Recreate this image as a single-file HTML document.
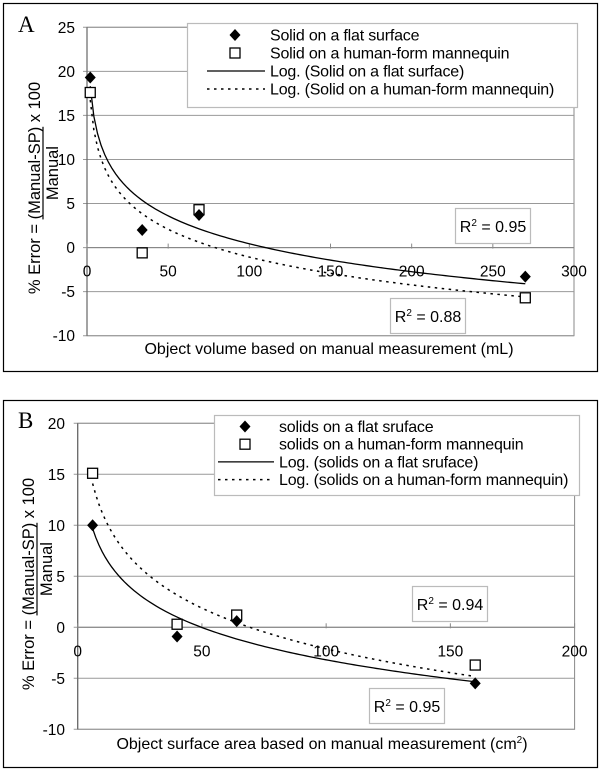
<!DOCTYPE html>
<html><head><meta charset="utf-8"><style>
html,body{margin:0;padding:0;background:#fff;}
svg{display:block;font-family:"Liberation Sans",Arial,sans-serif;}
</style></head><body>
<svg id="svg" width="602" height="772" viewBox="0 0 602 772" xmlns="http://www.w3.org/2000/svg">
<rect x="3.5" y="3.5" width="594" height="368" fill="#fff" stroke="#000" stroke-width="1.2"/>
<rect x="3.5" y="400.5" width="594" height="367" fill="#fff" stroke="#000" stroke-width="1.2"/>
<g id="A"></g>
<g id="B"></g>
</svg>
<script>
// Chart A data
const aFlatX = [2, 34, 69, 270];
const aFlatY = [19.3, 2, 3.7, -3.3];
const aMannX = [2, 34, 69, 270];
const aMannY = [17.6, -0.6, 4.3, -5.7];
const aYTicks = [25, 20, 15, 10, 5, 0, -5, -10];
const aXTicks = [0, 50, 100, 150, 200, 250, 300];
const aR2 = ["0.95", "0.88"];
// Chart B data
const bFlatX = [6, 40, 64, 160];
const bFlatY = [10, -0.9, 0.6, -5.5];
const bMannX = [6, 40, 64, 160];
const bMannY = [15.1, 0.3, 1.2, -3.7];
const bYTicks = [20, 15, 10, 5, 0, -5, -10];
const bXTicks = [0, 50, 100, 150, 200];
const bR2 = ["0.95", "0.94"];

const NS = "http://www.w3.org/2000/svg";
function mk(parent, tag, attrs, text) {
  const e = document.createElementNS(NS, tag);
  for (const k in attrs) e.setAttribute(k, attrs[k]);
  if (text !== undefined) e.textContent = text;
  parent.appendChild(e);
  return e;
}
function fit(xs, ys) {
  const lx = xs.map(Math.log);
  const n = xs.length;
  const mx = lx.reduce((a, b) => a + b, 0) / n, my = ys.reduce((a, b) => a + b, 0) / n;
  let sxx = 0, sxy = 0;
  for (let i = 0; i < n; i++) { sxx += (lx[i] - mx) ** 2; sxy += (lx[i] - mx) * (ys[i] - my); }
  const a = sxy / sxx; return { a: a, b: my - a * mx };
}
function drawChart(g, c) {
  const X = v => c.x0 + (v - c.xmin) / (c.xmax - c.xmin) * (c.x1 - c.x0);
  const Y = v => c.yTop + (c.ymax - v) / (c.ymax - c.ymin) * (c.yBot - c.yTop);
  let t = mk(g, "text", {x: 18, y: c.letterY, "font-family": "Liberation Serif,serif", "font-size": 23}, c.letter);
  
  
  let r = mk(g, "rect", {x: c.x0, y: c.yTop, width: c.x1 - c.x0, height: c.yBot - c.yTop, fill: "none", stroke: "#888", "stroke-width": 1});
  
  
  c.yTicks.forEach(v => {
    const y = Y(v);
    const l = mk(g, "line", {x1: c.x0 - 4, x2: c.x1, y1: y, y2: y, stroke: "#999", "stroke-width": 1});
    
    
    const tt = mk(g, "text", {x: c.yLabX, y: y + 5.5, "text-anchor": "end", "font-size": 15.5}, String(v));
    
    
  });
  const ax = mk(g, "line", {x1: c.x0, x2: c.x0, y1: c.yTop, y2: c.yBot, stroke: "#666", "stroke-width": 1.2});
  
  
  const xa = mk(g, "line", {x1: c.x0, x2: c.x1, y1: Y(0), y2: Y(0), stroke: "#888", "stroke-width": 1.2});
  
  
  c.xTicks.forEach(v => {
    const x = X(v);
    const l = mk(g, "line", {x1: x, x2: x, y1: Y(0) - 4, y2: Y(0) + 1, stroke: "#888"});
    
    
    const tt = mk(g, "text", {x: x, y: Y(0) + 29, "text-anchor": "middle", "font-size": 15.5}, String(v));
    
    
  });
  const drawFit = (xs, ys, dash, name) => {
    const f = fit(xs, ys);
    const lo = Math.min(...xs), hi = Math.max(...xs);
    let d = "";
    for (let i = 0; i <= 120; i++) {
      const xv = lo + (hi - lo) * i / 120;
      d += (i ? "L" : "M") + X(xv).toFixed(2) + "," + Y(f.a * Math.log(xv) + f.b).toFixed(2);
    }
    const p = mk(g, "path", {d: d, fill: "none", stroke: "#000", "stroke-width": dash ? 1.5 : 1.3, "stroke-dasharray": dash ? "2.5,4.5" : "none"});
    
    
  };
  drawFit(c.fx, c.fy, false, 'trendline-flat');
  drawFit(c.mx, c.my, true, 'trendline-mannequin');
  c.mx.forEach((v, i) => {
    const s = mk(g, "rect", {x: X(v) - 5, y: Y(c.my[i]) - 5, width: 10, height: 10, fill: "#fff", stroke: "#000", "stroke-width": 1.3});
    
    
  });
  c.fx.forEach((v, i) => {
    const x = X(v), y = Y(c.fy[i]);
    const s = mk(g, "path", {d: `M${x},${y - 6}L${x + 5.5},${y}L${x},${y + 6}L${x - 5.5},${y}Z`, fill: "#000"});
    
    
  });
  const L = c.leg;
  const lg = mk(g, "g", {});
  
  
  mk(lg, "rect", {x: L.x, y: L.y, width: L.w, height: L.h, fill: "#fff", stroke: "#bbb", "stroke-width": 1.2});
  const mxp = L.mk, y0 = L.r0, dy = L.dy;
  mk(lg, "path", {d: `M${mxp},${y0 - 6}L${mxp + 5.5},${y0}L${mxp},${y0 + 6}L${mxp - 5.5},${y0}Z`, fill: "#000"});
  mk(lg, "rect", {x: mxp - 5, y: y0 + dy - 5, width: 10, height: 10, fill: "#fff", stroke: "#000", "stroke-width": 1.3});
  mk(lg, "line", {x1: L.l0, x2: L.l1, y1: y0 + 2 * dy, y2: y0 + 2 * dy, stroke: "#000", "stroke-width": 1.3});
  mk(lg, "line", {x1: L.l0, x2: L.l1, y1: y0 + 3 * dy, y2: y0 + 3 * dy, stroke: "#000", "stroke-width": 1.5, "stroke-dasharray": "2.5,4.5"});
  L.rows.forEach((s, i) => {
    const tt = mk(lg, "text", {x: L.tx, y: y0 + i * dy + 5.5, "font-size": 16, "letter-spacing": -0.2}, s);
    
    
  });
  c.r2.forEach((b) => {
    const bg = mk(g, "g", {});
    
    
    mk(bg, "rect", {x: b.x, y: b.y, width: 75, height: 35, fill: "#fff", stroke: "#bbb", "stroke-width": 1.2});
    const tt = mk(bg, "text", {x: b.x + 37.5, y: b.y + 23.5, "text-anchor": "middle", "font-size": 16});
    mk(tt, "tspan", {}, "R");
    mk(tt, "tspan", {"font-size": 10, dy: -6}, "2");
    mk(tt, "tspan", {dy: 6}, " = " + b.v);
  });
  const xt = mk(g, "text", {x: c.xtX, y: c.xtY, "text-anchor": "middle", "font-size": 16}, c.xTitle);
  
  
  if (c.sup) { mk(xt, "tspan", {"font-size": 10, dy: -6}, "2"); mk(xt, "tspan", {dy: 6}, ")"); }
  const yt = mk(g, "g", {transform: `translate(${c.ytX},${c.ytY}) rotate(-90)`});
  
  
  const main = mk(yt, "text", {x: 0, y: 0, "text-anchor": "middle", "font-size": 16.5}, "% Error = (Manual-SP) x 100");
  let s0 = -40, sl = 90;
  try {
    const tot = main.getComputedTextLength();
    s0 = -tot / 2 + main.getSubStringLength(0, 10);
    sl = main.getSubStringLength(10, 11);
  } catch (e) {}
  mk(yt, "line", {x1: s0, x2: s0 + sl, y1: 3, y2: 3, stroke: "#000", "stroke-width": 1.2});
  mk(yt, "text", {x: s0 + sl / 2, y: 18, "text-anchor": "middle", "font-size": 16.5}, "Manual");
}
drawChart(document.getElementById("A"), {
  letter: "A", letterY: 32,
  x0: 87, x1: 574, xmin: 0, xmax: 300, yTop: 27.3, yBot: 335.7, ymin: -10, ymax: 25,
  yTicks: aYTicks, xTicks: aXTicks, yLabX: 75,
  fx: aFlatX, fy: aFlatY, mx: aMannX, my: aMannY,
  leg: {x: 187.5, y: 23.5, w: 390, h: 84, mk: 235, tx: 270, l0: 207, l1: 265, r0: 35, dy: 18,
        rows: ["Solid on a flat surface", "Solid on a human-form mannequin", "Log. (Solid on a flat surface)", "Log. (Solid on a human-form mannequin)"]},
  r2: [{x: 455.5, y: 208.5, v: aR2[0]}, {x: 390.5, y: 298.5, v: aR2[1]}],
  xTitle: "Object volume based on manual measurement (mL)", xtX: 329, xtY: 354, sup: false,
  ytX: 40, ytY: 188
});
drawChart(document.getElementById("B"), {
  letter: "B", letterY: 428,
  x0: 77.7, x1: 574.6, xmin: 0, xmax: 200, yTop: 423.3, yBot: 729.3, ymin: -10, ymax: 20,
  yTicks: bYTicks, xTicks: bXTicks, yLabX: 65,
  fx: bFlatX, fy: bFlatY, mx: bMannX, my: bMannY,
  leg: {x: 214.5, y: 415.5, w: 365, h: 80, mk: 245, tx: 279, l0: 218, l1: 274, r0: 426.5, dy: 17.7,
        rows: ["solids on a flat sruface", "solids on a human-form mannequin", "Log. (solids on a flat sruface)", "Log. (solids on a human-form mannequin)"]},
  r2: [{x: 369.5, y: 688.5, v: bR2[0]}, {x: 412.5, y: 586.5, v: bR2[1]}],
  xTitle: "Object surface area based on manual measurement (cm", xtX: 322, xtY: 749, sup: true,
  ytX: 34, ytY: 584
});
</script>
</body></html>
